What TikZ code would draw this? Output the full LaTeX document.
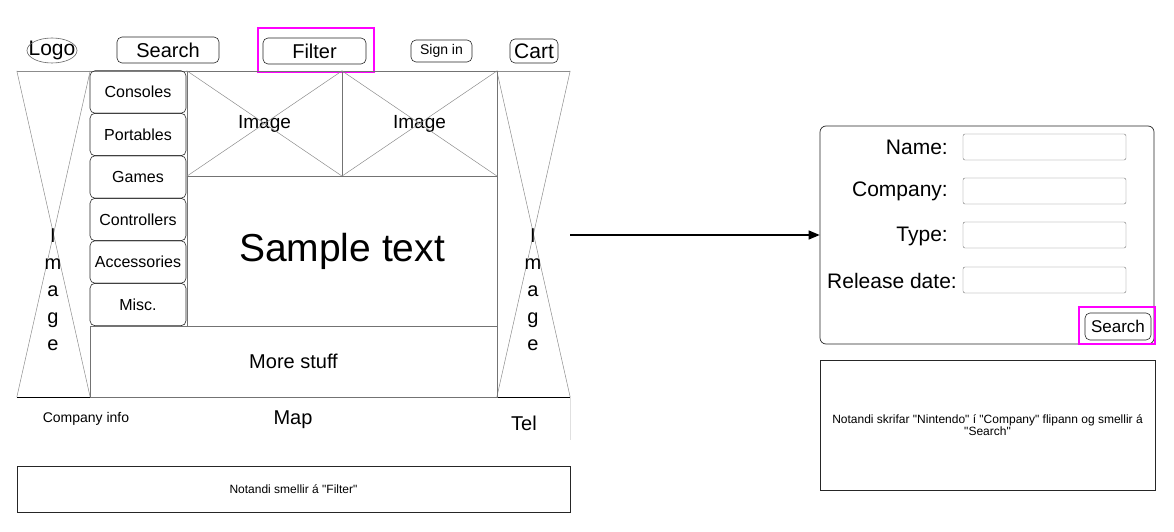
\documentclass[tikz,border=0pt]{standalone}
\usepackage{fontspec}
\setmainfont{Liberation Sans}[Ligatures=TeXOff]
\usetikzlibrary{arrows.meta}
\definecolor{hilite}{RGB}{255,0,255}
\newcommand{\fs}[1]{\fontsize{#1}{#1}\selectfont}

\begin{document}
\begin{tikzpicture}[
  x=1pt, y=-1pt,
  frame/.style={draw=black!45, line width=0.5pt},
  btn/.style={draw=black!85, rounded corners=5pt, line width=0.6pt, inner sep=0pt},
  menu/.style={btn, minimum width=96, minimum height=42.5, font=\fs{16}},
  imgbox/.style={draw=black!55, line width=0.6pt, inner sep=0pt},
  vtext/.style={align=center, inner sep=0pt, font=\fontsize{20}{27}\selectfont},
  field/.style={draw=black!55, rounded corners=2pt, minimum width=163, minimum height=26, inner sep=0pt},
  lbl/.style={anchor=east, inner sep=0pt, font=\fs{21}},
  pick/.style={draw=hilite, line width=2pt},
  note/.style={draw=black!85, line width=0.7pt, align=center, inner sep=0pt, font=\fs{12}},
  arr/.style={-{Triangle[length=11pt,width=9pt]}, line width=1.1pt},
]
\useasboundingbox (0,0) rectangle (1174,532);

% ── Top bar ──
\node[inner sep=0pt, font=\fs{21}] (logo) at (52,50.5) {Logo};
\draw[black!60, line width=0.6pt] (logo.center) ellipse [x radius=25, y radius=12.5];
\node[btn, minimum width=102, minimum height=26, font=\fs{20}] (search) at (168,50) {Search};
\draw[pick] (258,28) rectangle (374,72);
\node[btn, minimum width=103, minimum height=26, font=\fs{20}] (filter) at (314.5,51) {Filter};
\node[btn, minimum width=61, minimum height=22, font=\fs{14}] (signin) at (441.5,51) {Sign in};
\node[btn, minimum width=48, minimum height=24, font=\fs{21}] (cart) at (534,51) {Cart};

% ── Page frame ──
\draw[frame] (17,71) -- (570,71);
\node[minimum width=73, minimum height=326, inner sep=0pt] (imgL) at (53.5,234) {};
\node[minimum width=73, minimum height=326, inner sep=0pt] (imgR) at (533.5,234) {};
\foreach \p in {imgL,imgR} {
  \draw[frame] (\p.north west) -- (\p.south east);
  \draw[frame] (\p.north east) -- (\p.south west);
  \draw[line width=1pt] (\p.south west) -- (\p.south east);
}
\node[vtext] (imgLtxt) at (53,290) {I\\m\\a\\g\\e};
\node[vtext] (imgRtxt) at (533,290) {I\\m\\a\\g\\e};

% ── Menu ──
\node[menu] (consoles) at (138,92) {Consoles};
\node[menu] (portables) at (138,134.5) {Portables};
\node[menu] (games) at (138,177) {Games};
\node[menu] (controllers) at (138,219.5) {Controllers};
\node[menu] (accessories) at (138,262) {Accessories};
\node[menu] (misc) at (138,304.5) {Misc.};

% ── Content ──
\node[imgbox, minimum width=155, minimum height=105, font=\fs{19}] (img1) at (264.5,123.5) {Image};
\node[imgbox, minimum width=155, minimum height=105, font=\fs{19}] (img2) at (419.5,123.5) {Image};
\foreach \p in {img1,img2} {
  \draw[frame] (\p.north west) -- (\p.south east);
  \draw[frame] (\p.north east) -- (\p.south west);
}
\node[imgbox, minimum width=310, minimum height=150, font=\fs{39}] (sample) at (342,251) {Sample text};
\node[imgbox, minimum width=407, minimum height=71, font=\fs{20}] (more) at (293.5,361.5) {More stuff};

% ── Footer ──
\node[font=\fs{14}] (company) at (86,419) {Company info};
\node[font=\fs{20}] (map) at (293,420) {Map};
\node[font=\fs{20}] (tel) at (524,423) {Tel};
\draw[black!12] (570,397) -- (570,440);

\node[note, minimum width=553, minimum height=46] (note1) at (293.5,489) {Notandi smellir á "Filter"};

% ── Filter form ──
\coordinate (pageR) at (570,235);
\node[draw=black!85, rounded corners=6pt, line width=0.7pt, minimum width=334, minimum height=218] (form) at (987,235) {};
\draw[arr] (pageR) -- (form.west);

\node[lbl] (name) at (948,147) {Name:};
\node[lbl] (company2) at (948,191) {Company:};
\node[lbl] (type) at (948,236) {Type:};
\node[lbl] (release) at (957,281) {Release date:};
\node[field] (fname) at (1044.5,147) {};
\node[field] (fcompany) at (1044.5,191) {};
\node[field] (ftype) at (1044.5,235) {};
\node[field] (frelease) at (1044.5,280) {};

\draw[pick] (1079,307) rectangle (1155,344);
\node[btn, minimum width=66, minimum height=27, font=\fs{17}] (go) at (1118,326.5) {Search};

\node[note, minimum width=335, minimum height=130] (note2) at (987.5,425)
  {Notandi skrifar "Nintendo" í "Company" flipann og smellir á\\"Search"};
\end{tikzpicture}
\end{document}
